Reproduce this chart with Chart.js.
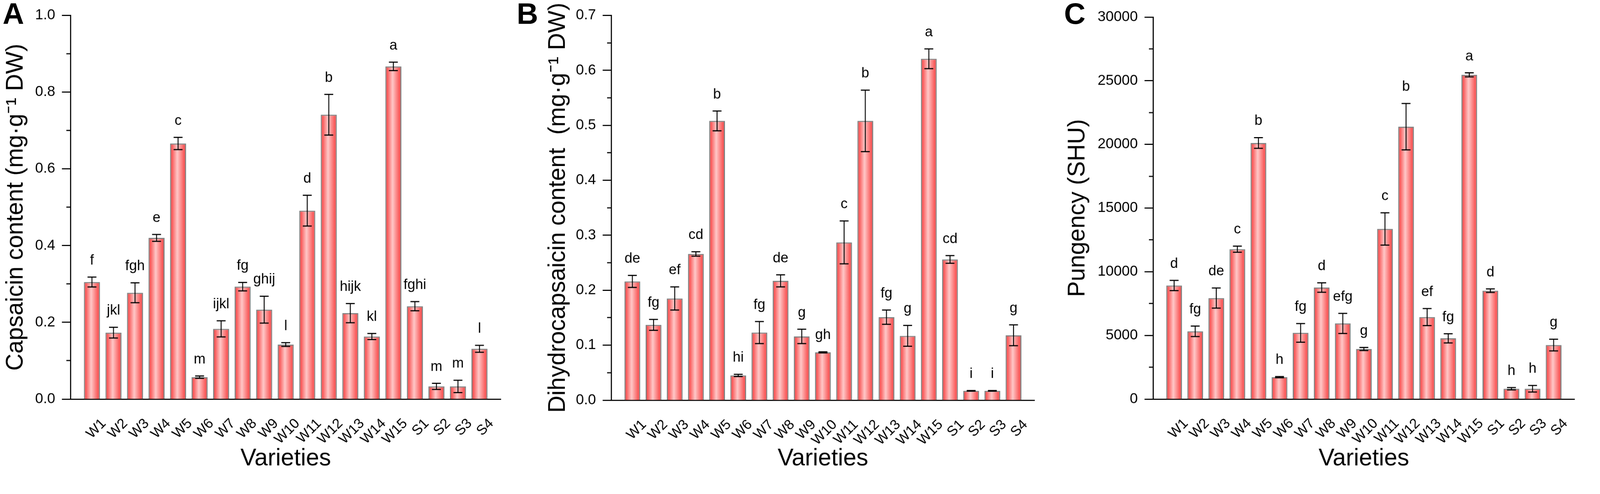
<!DOCTYPE html>
<html lang="en">
<head>
<meta charset="UTF-8">
<title>Capsaicinoids by variety</title>
<script src="https://cdn.jsdelivr.net/npm/chart.js"></script>
<style>
  html, body { margin: 0; background: #fff; overflow: hidden; }
  #pagina { position: absolute; left: 0; top: 0; width: 4317px; height: 1265px; transform-origin: 0 0;
            font-family: "Liberation Sans", Arial, sans-serif; }
  .painel { position: absolute; top: 0; height: 1265px; }
  .letra { position: absolute; top: -3px; font-weight: bold; font-size: 80px; line-height: 1; color: #000; }
</style>
</head>
<body>
<div id="pagina">
  <div class="painel" style="left:0;width:1420px"><canvas id="grafA" width="1420" height="1265"></canvas></div>
  <div class="painel" style="left:1420px;width:1440px"><canvas id="grafB" width="1440" height="1265"></canvas></div>
  <div class="painel" style="left:2860px;width:1457px"><canvas id="grafC" width="1457" height="1265"></canvas></div>
  <div class="letra" style="left:7px">A</div>
  <div class="letra" style="left:1394px">B</div>
  <div class="letra" style="left:2871px">C</div>
</div>

<script>
// dados
const varieties = ['W1','W2','W3','W4','W5','W6','W7','W8','W9','W10','W11','W12','W13','W14','W15','S1','S2','S3','S4'];

const capsaicin = [0.305, 0.173, 0.277, 0.420, 0.666, 0.057, 0.183, 0.293, 0.233, 0.142, 0.491, 0.741, 0.224, 0.163, 0.867, 0.242, 0.033, 0.033, 0.131];
const capsaicinErr = [0.013, 0.014, 0.026, 0.009, 0.016, 0.003, 0.021, 0.011, 0.035, 0.005, 0.040, 0.053, 0.025, 0.008, 0.011, 0.012, 0.008, 0.016, 0.009];
const capsaicinLetters = ['f','jkl','fgh','e','c','m','ijkl','fg','ghij','l','d','b','hijk','kl','a','fghi','m','m','l'];

const dihydro = [0.216, 0.137, 0.185, 0.266, 0.508, 0.045, 0.123, 0.217, 0.116, 0.087, 0.287, 0.508, 0.151, 0.117, 0.621, 0.256, 0.017, 0.017, 0.118];
const dihydroErr = [0.011, 0.010, 0.021, 0.004, 0.018, 0.002, 0.020, 0.011, 0.013, 0.001, 0.039, 0.056, 0.013, 0.019, 0.018, 0.007, 0.0005, 0.0005, 0.019];
const dihydroLetters = ['de','fg','ef','cd','b','hi','fg','de','g','gh','c','b','fg','g','a','cd','i','i','g'];

const pungency = [8920, 5320, 7930, 11770, 20110, 1720, 5200, 8760, 5940, 3930, 13360, 21390, 6440, 4770, 25460, 8510, 810, 810, 4240];
const pungencyErr = [400, 410, 790, 240, 420, 50, 730, 370, 790, 120, 1270, 1820, 670, 360, 160, 140, 90, 260, 460];
const pungencyLetters = ['d','fg','de','c','b','h','fg','d','efg','g','c','b','ef','fg','a','d','h','h','g'];

const FONTE = '"Liberation Sans", Arial, sans-serif';
const BAR_PCT = 0.745;

// encaixa a figura inteira na janela
const escala = Math.min(document.documentElement.clientWidth / 4317, window.innerHeight / 1265);
if (escala > 0 && Math.abs(escala - 1) > 0.001) {
  document.getElementById('pagina').style.transform = 'scale(' + escala + ')';
}

// preenchimento em degradê horizontal de cada barra
function corBarra(ctx) {
  const chart = ctx.chart;
  const xs = chart.scales && chart.scales.x;
  if (!xs || ctx.type !== 'data') return 'rgb(250,130,130)';
  const cx = xs.getPixelForValue(ctx.dataIndex);
  const passo = xs.getPixelForValue(1) - xs.getPixelForValue(0);
  if (!isFinite(cx) || !isFinite(passo) || passo <= 0) return 'rgb(250,130,130)';
  const meio = passo * BAR_PCT / 2;
  const g = chart.ctx.createLinearGradient(cx - meio, 0, cx + meio, 0);
  g.addColorStop(0, 'rgb(248,70,70)');
  g.addColorStop(0.12, 'rgb(250,90,90)');
  g.addColorStop(0.45, 'rgb(255,200,200)');
  g.addColorStop(0.85, 'rgb(250,95,95)');
  g.addColorStop(1, 'rgb(248,70,70)');
  return g;
}

// barras de erro e letras de significância
const errosPlugin = {
  id: 'erros',
  afterDatasetsDraw(chart, args, opts) {
    const { ctx, scales: { x, y } } = chart;
    ctx.save();
    ctx.strokeStyle = '#000';
    opts.values.forEach((v, i) => {
      const px = x.getPixelForValue(i + 1);
      const yTop = y.getPixelForValue(v + opts.errors[i]);
      const yBot = y.getPixelForValue(v - opts.errors[i]);
      ctx.lineWidth = 2.5;
      ctx.beginPath();
      ctx.moveTo(px, yTop);
      ctx.lineTo(px, yBot);
      ctx.stroke();
      ctx.lineWidth = 3;
      ctx.beginPath();
      ctx.moveTo(px - 12, yTop); ctx.lineTo(px + 12, yTop);
      ctx.moveTo(px - 12, yBot); ctx.lineTo(px + 12, yBot);
      ctx.stroke();
      ctx.fillStyle = '#000';
      ctx.font = '38px ' + FONTE;
      ctx.textAlign = 'center';
      ctx.textBaseline = 'alphabetic';
      ctx.fillText(opts.letters[i], px, yTop - 34);
    });
    ctx.restore();
  }
};

// ticks menores do eixo y
const menoresPlugin = {
  id: 'menores',
  afterDraw(chart, args, opts) {
    const { ctx, scales: { y } } = chart;
    const n = Math.round(opts.max / opts.minor);
    ctx.save();
    ctx.strokeStyle = '#000';
    ctx.lineWidth = 3;
    for (let k = 1; k < n; k += 2) {
      const py = Math.round(y.getPixelForValue(k * opts.minor));
      ctx.beginPath();
      ctx.moveTo(y.right - 11, py);
      ctx.lineTo(y.right, py);
      ctx.stroke();
    }
    ctx.restore();
  }
};

function painel(id, cfg) {
  new Chart(document.getElementById(id), {
    type: 'bar',
    data: {
      labels: ['', ...varieties, ''],
      datasets: [{
        data: [null, ...cfg.values, null],
        backgroundColor: corBarra,
        borderColor: 'rgb(128,128,128)',
        borderWidth: 3,
        categoryPercentage: 1,
        barPercentage: BAR_PCT
      }]
    },
    options: {
      responsive: false,
      animation: false,
      layout: { padding: { left: 0, right: cfg.padRight, top: cfg.padTop, bottom: 0 } },
      plugins: {
        legend: { display: false },
        tooltip: { enabled: false },
        erros: { values: cfg.values, errors: cfg.errors, letters: cfg.letters },
        menores: { max: cfg.max, minor: cfg.minor }
      },
      scales: {
        x: {
          offset: false,
          grid: { display: false },
          border: { display: true, color: '#000', width: 3 },
          ticks: {
            autoSkip: false, minRotation: 45, maxRotation: 45,
            padding: 36, labelOffset: 32,
            color: '#000', font: { family: FONTE, size: 38 }
          },
          title: {
            display: true, text: 'Varieties', color: '#000',
            font: { family: FONTE, size: 64, lineHeight: 0.8 },
            padding: { top: 0, bottom: 1 }
          },
          afterFit(s) { s.height = cfg.xHeight; }
        },
        y: {
          min: 0, max: cfg.max,
          grid: { drawOnChartArea: false, drawTicks: true, tickLength: 23, tickWidth: 3, tickColor: '#000' },
          border: { display: true, color: '#000', width: 3 },
          ticks: {
            stepSize: cfg.step, padding: 18, color: '#000',
            font: { family: FONTE, size: 39 },
            callback: v => v.toFixed(cfg.decimals)
          },
          title: {
            display: true, text: cfg.title, color: '#000',
            font: { family: FONTE, size: 64 },
            padding: { top: cfg.titlePad, bottom: 0 }
          },
          afterFit(s) { s.width = cfg.yWidth; }
        }
      }
    },
    plugins: [errosPlugin, menoresPlugin]
  });
}

painel('grafA', {
  values: capsaicin, errors: capsaicinErr, letters: capsaicinLetters,
  title: 'Capsaicin content (mg·g⁻¹ DW)',
  max: 1.0, step: 0.2, minor: 0.1, decimals: 1,
  yWidth: 190, xHeight: 188, padTop: 30, padRight: 31, titlePad: 5
});

painel('grafB', {
  values: dihydro, errors: dihydroErr, letters: dihydroLetters,
  title: 'Dihydrocapsaicin content  (mg·g⁻¹ DW)',
  max: 0.7, step: 0.1, minor: 0.05, decimals: 1,
  yWidth: 229, xHeight: 185, padTop: 37, padRight: 9, titlePad: 48
});

painel('grafC', {
  values: pungency, errors: pungencyErr, letters: pungencyLetters,
  title: 'Pungency (SHU)',
  max: 30000, step: 5000, minor: 2500, decimals: 0,
  yWidth: 251, xHeight: 188, padTop: 46, padRight: 13, titlePad: 10
});
</script>
</body>
</html>
